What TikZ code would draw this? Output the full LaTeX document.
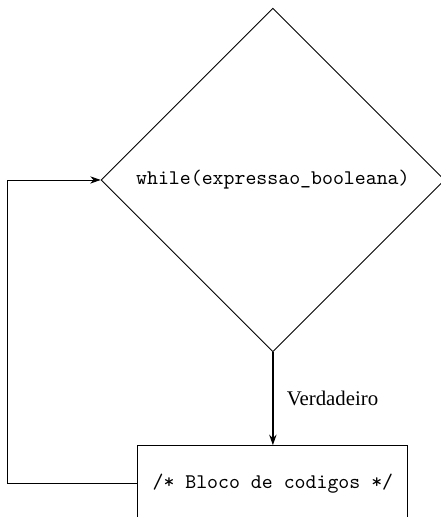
\documentclass[tikz,border=0pt]{standalone}
\usepackage{fontspec}
\setmainfont{Liberation Serif}
\usetikzlibrary{arrows.meta,positioning,shapes.geometric}

\begin{document}
\begin{tikzpicture}[
       decision/.style={
         diamond,
         draw=black,
         aspect=1,
         inner sep=0pt,
         minimum size=165pt,
         font=\ttfamily},
       codebox/.style = {rectangle, draw, text centered, minimum width=129.6pt, minimum height=36.5pt, font=\ttfamily},
       flow/.style = {-{Stealth[length=5pt,width=3.5pt]}},
node distance=44.6pt and 62.4pt
      ]
      \useasboundingbox (-131pt,86.4pt) rectangle (80.6pt,-161.8pt);

      \node[decision] (W) at (0,0) {while(expressao\_booleana)};
      \node[codebox, below = of W] (B) {/* Bloco de codigos */};
      \coordinate[left = of B.west] (L);

      \draw[flow, thick] (W.south) -- node[right=3pt] {Verdadeiro} (B.north);
      \draw[flow] (B.west) -- (L) |- (W.west);

\end{tikzpicture}
\end{document}
